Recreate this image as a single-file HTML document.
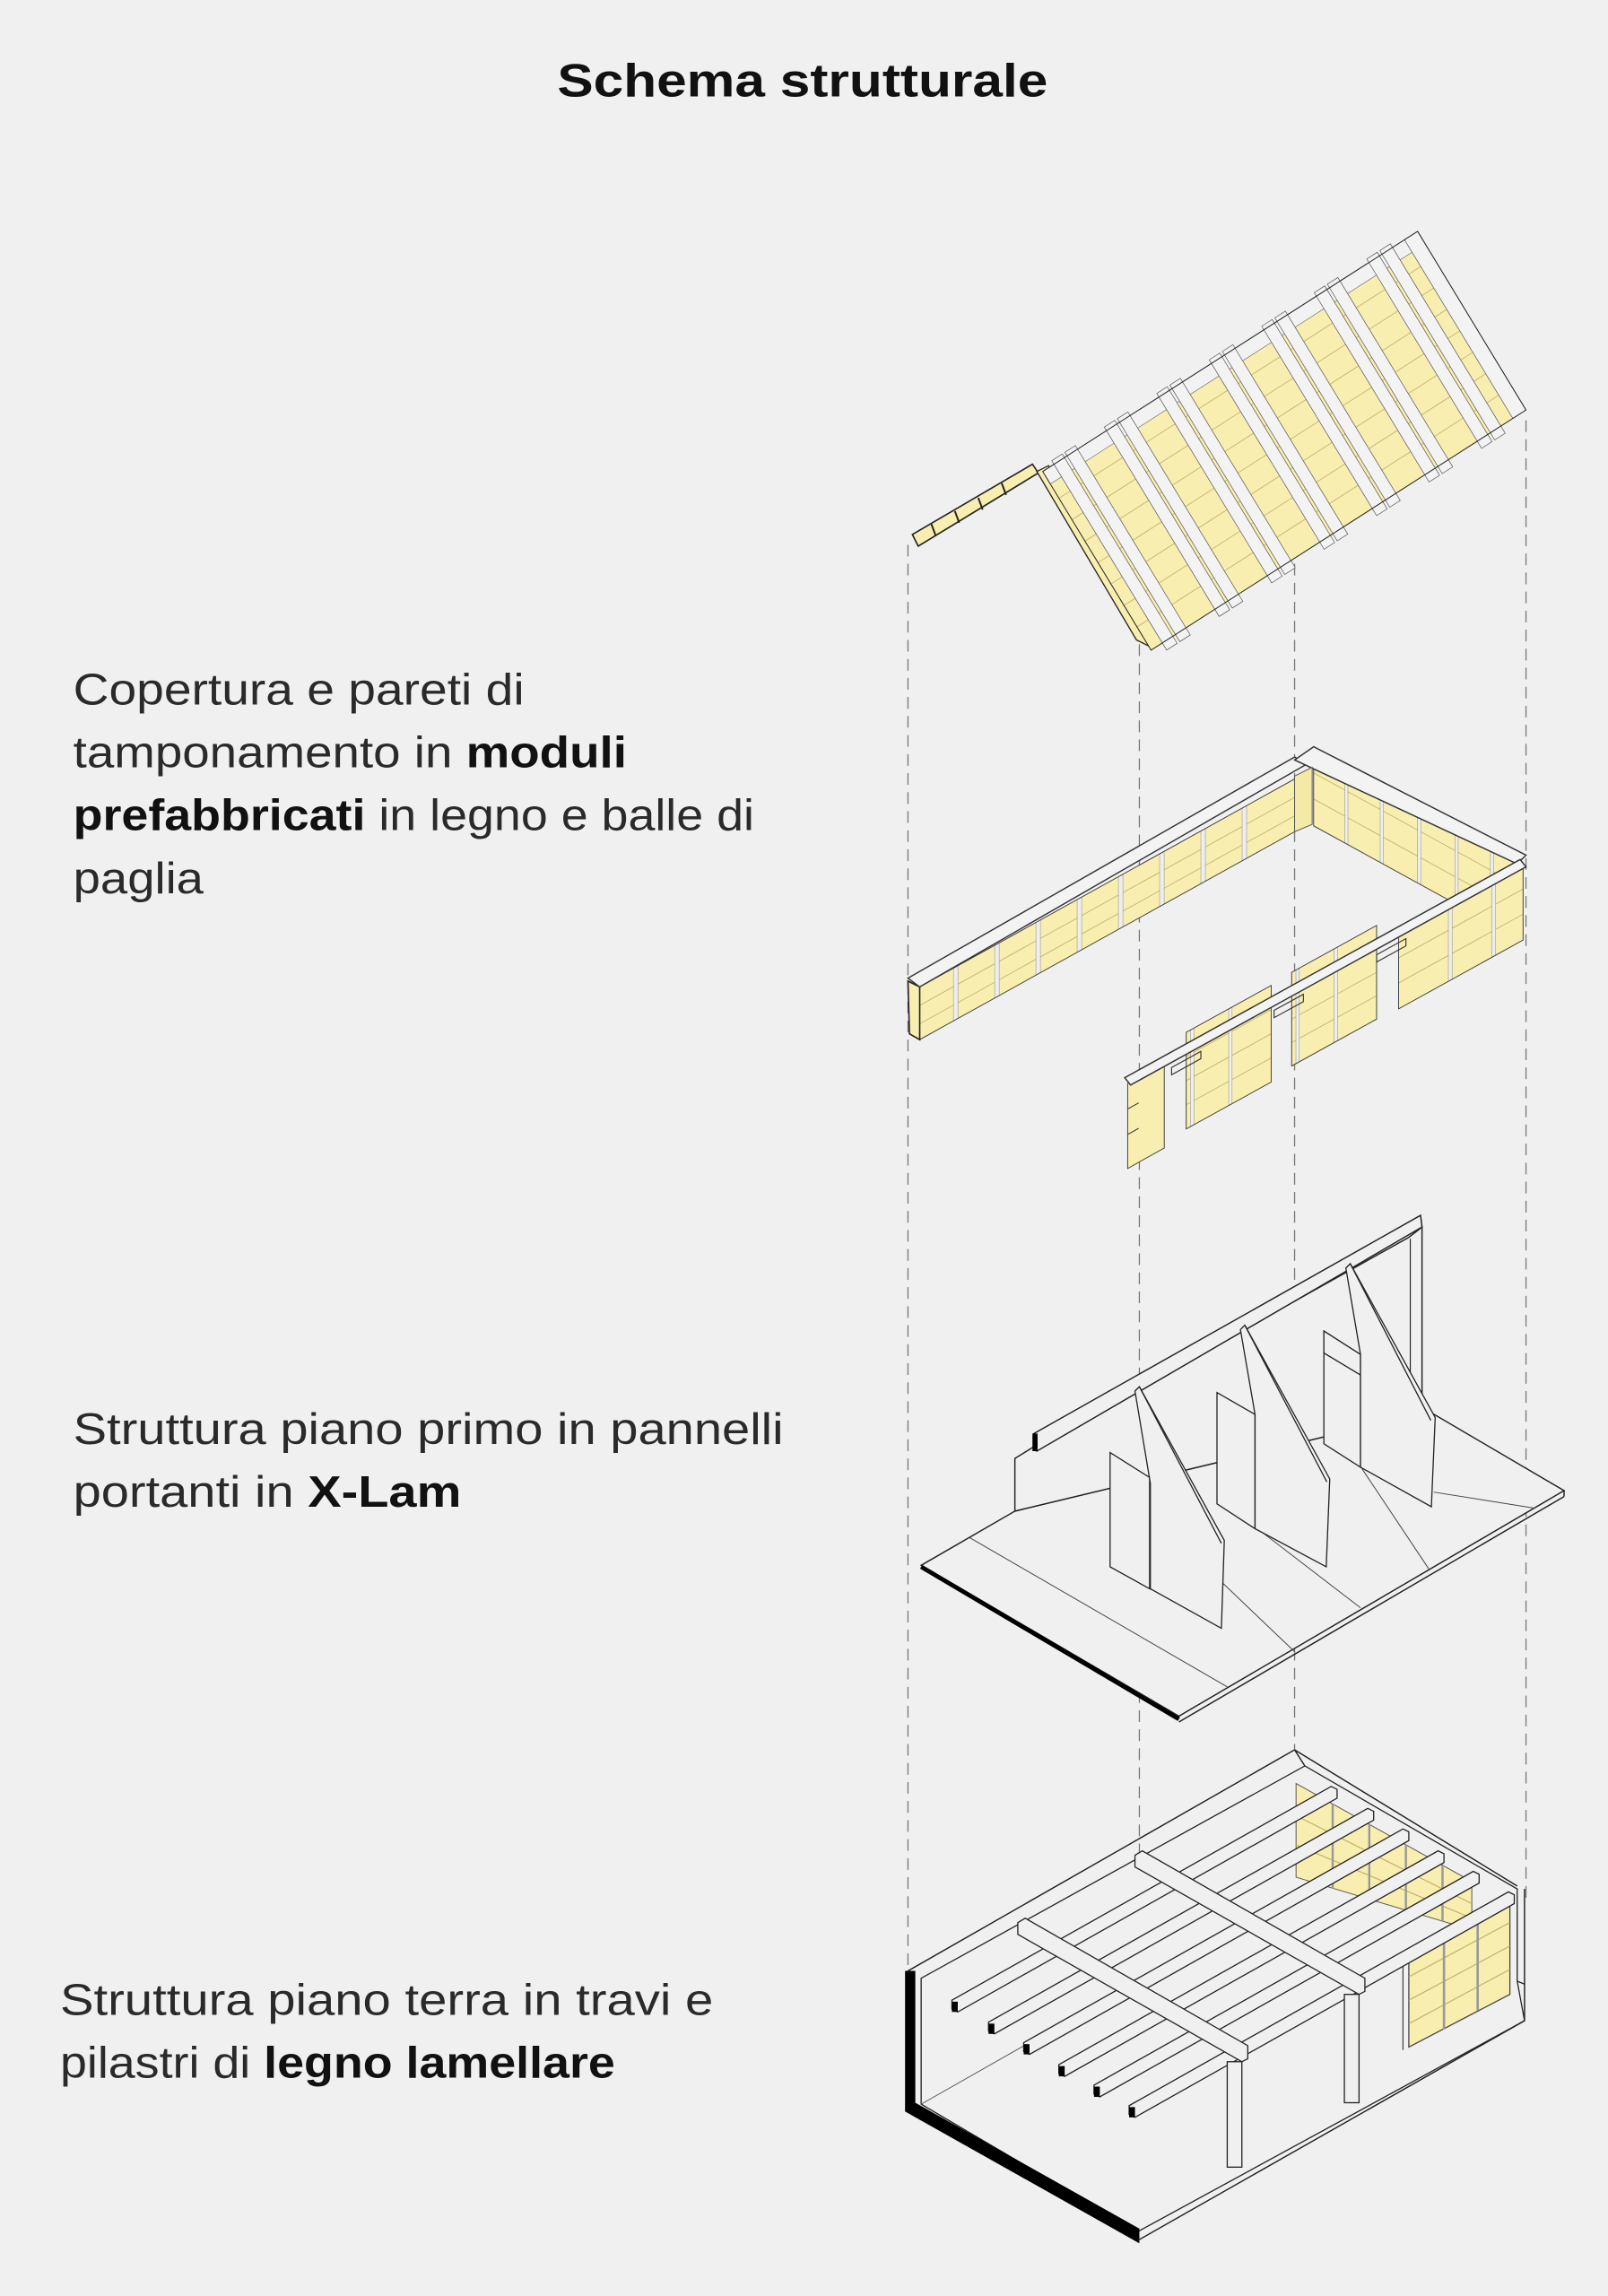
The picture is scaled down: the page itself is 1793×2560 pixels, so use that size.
<!DOCTYPE html>
<html><head><meta charset="utf-8">
<style>
html,body{margin:0;padding:0;background:#f0f0f0;}
svg{display:block;}
text{font-family:"Liberation Sans",sans-serif;}
.n{vector-effect:non-scaling-stroke;}
</style></head>
<body>
<svg width="1793" height="2560" viewBox="0 0 1098 1568" preserveAspectRatio="none" xmlns="http://www.w3.org/2000/svg">
<rect x="0" y="0" width="1098" height="1568" fill="#f0f0f0"/>

<!-- Title -->
<text x="548" y="66" text-anchor="middle" font-size="32" font-weight="bold" fill="#111" textLength="335" lengthAdjust="spacingAndGlyphs">Schema strutturale</text>

<!-- Labels -->
<g font-size="30" fill="#2a2a2a">
<text x="50" y="481" textLength="308" lengthAdjust="spacingAndGlyphs">Copertura e pareti di</text>
<text x="50" y="524" textLength="378" lengthAdjust="spacingAndGlyphs">tamponamento in <tspan font-weight="bold" fill="#111">moduli</tspan></text>
<text x="50" y="567" textLength="465" lengthAdjust="spacingAndGlyphs"><tspan font-weight="bold" fill="#111">prefabbricati</tspan> in legno e balle di</text>
<text x="50" y="610" textLength="89" lengthAdjust="spacingAndGlyphs">paglia</text>
<text x="50" y="986" textLength="485" lengthAdjust="spacingAndGlyphs">Struttura piano primo in pannelli</text>
<text x="50" y="1029" textLength="265" lengthAdjust="spacingAndGlyphs">portanti in <tspan font-weight="bold" fill="#111">X-Lam</tspan></text>
<text x="41" y="1376" textLength="446" lengthAdjust="spacingAndGlyphs">Struttura piano terra in travi e</text>
<text x="41" y="1419" textLength="379" lengthAdjust="spacingAndGlyphs">pilastri di <tspan font-weight="bold" fill="#111">legno lamellare</tspan></text>
</g>

<!-- dashed guide lines -->
<g stroke="#777" stroke-width="0.8" stroke-dasharray="8,5" fill="none">
<line x1="620" y1="372" x2="620" y2="1345"/>
<line x1="778" y1="440" x2="778" y2="1445"/>
<line x1="884" y1="372" x2="884" y2="1195"/>
<line x1="1042" y1="287" x2="1042" y2="1300"/>
</g>

<!-- ROOF -->
<polygon points="623,365 705,317 709,323 627,373" fill="#f8eeb0" stroke="#222" stroke-width="1"/>
<g stroke="#222" stroke-width="1.2"><line x1="636" y1="358" x2="639" y2="366"/><line x1="652" y1="349" x2="655" y2="357"/><line x1="668" y1="340" x2="671" y2="348"/><line x1="684" y1="330" x2="687" y2="338"/></g>
<polygon points="708,322 716,318 786,442 776,437" fill="#f8eeb0" stroke="#222" stroke-width="0.8"/>
<g transform="matrix(256,-164,74,122,712,322)">
<rect x="0" y="0" width="1" height="1" fill="#f8eeb0"/>
<g stroke="#bfae66" stroke-width="0.8" class="n">
<line class="n" x1="0" y1="0.15" x2="1" y2="0.15"/><line class="n" x1="0" y1="0.27" x2="1" y2="0.27"/><line class="n" x1="0" y1="0.39" x2="1" y2="0.39"/><line class="n" x1="0" y1="0.51" x2="1" y2="0.51"/><line class="n" x1="0" y1="0.63" x2="1" y2="0.63"/><line class="n" x1="0" y1="0.75" x2="1" y2="0.75"/><line class="n" x1="0" y1="0.87" x2="1" y2="0.87"/>
</g>
<rect class="n" x="0" y="0" width="1" height="0.07" fill="#f2f2f2" stroke="#666" stroke-width="0.6"/>
<g fill="#f3f3f3" stroke="#555" stroke-width="0.7">
<rect class="n" x="0.03" y="-0.02" width="0.028" height="1.06"/><rect class="n" x="0.065" y="-0.02" width="0.028" height="1.06"/>
<rect class="n" x="0.17" y="-0.02" width="0.028" height="1.06"/><rect class="n" x="0.205" y="-0.02" width="0.028" height="1.06"/>
<rect class="n" x="0.31" y="-0.02" width="0.028" height="1.06"/><rect class="n" x="0.345" y="-0.02" width="0.028" height="1.06"/>
<rect class="n" x="0.45" y="-0.02" width="0.028" height="1.06"/><rect class="n" x="0.485" y="-0.02" width="0.028" height="1.06"/>
<rect class="n" x="0.59" y="-0.02" width="0.028" height="1.06"/><rect class="n" x="0.625" y="-0.02" width="0.028" height="1.06"/>
<rect class="n" x="0.73" y="-0.02" width="0.028" height="1.06"/><rect class="n" x="0.765" y="-0.02" width="0.028" height="1.06"/>
<rect class="n" x="0.87" y="-0.02" width="0.028" height="1.06"/><rect class="n" x="0.905" y="-0.02" width="0.028" height="1.06"/>
</g>
<rect class="n" x="0.965" y="0" width="0.035" height="1" fill="#f3f3f3" stroke="#555" stroke-width="0.7"/>
<rect class="n" x="0" y="0" width="1" height="1" fill="none" stroke="#222" stroke-width="1"/>
</g>

<!-- WALL MODULES -->
<!-- long back wall -->
<g transform="matrix(256,-142,0,36,628,674)">
<rect x="0" y="0" width="1" height="1" fill="#f8eeb0"/>
<g stroke="#bfae66" stroke-width="0.8"><line class="n" x1="0" y1="0.35" x2="1" y2="0.35"/><line class="n" x1="0" y1="0.7" x2="1" y2="0.7"/></g>
<g fill="#eeeeee" stroke="#888" stroke-width="0.5">
<rect class="n" x="0.09" y="0" width="0.012" height="1"/><rect class="n" x="0.2" y="0" width="0.012" height="1"/><rect class="n" x="0.31" y="0" width="0.012" height="1"/><rect class="n" x="0.42" y="0" width="0.012" height="1"/><rect class="n" x="0.53" y="0" width="0.012" height="1"/><rect class="n" x="0.64" y="0" width="0.012" height="1"/><rect class="n" x="0.75" y="0" width="0.012" height="1"/><rect class="n" x="0.86" y="0" width="0.012" height="1"/>
</g>
<rect class="n" x="0" y="0" width="1" height="1" fill="none" stroke="#333" stroke-width="0.9"/>
</g>
<polygon points="620,670 621,706 628,710 628,674" fill="#f8eeb0" stroke="#222" stroke-width="1"/>
<polygon points="620,668 884,517 892,522 628,674" fill="#f3f3f3" stroke="#333" stroke-width="0.9"/>
<!-- right back wall -->
<g transform="matrix(142,78,0,54,897,510)">
<rect x="0" y="0" width="1" height="1" fill="#f8eeb0"/>
<g stroke="#bfae66" stroke-width="0.8"><line class="n" x1="0" y1="0.33" x2="1" y2="0.33"/><line class="n" x1="0" y1="0.66" x2="1" y2="0.66"/></g>
<g fill="#eeeeee" stroke="#888" stroke-width="0.5"><rect class="n" x="0.15" y="0" width="0.015" height="1"/><rect class="n" x="0.32" y="0" width="0.015" height="1"/><rect class="n" x="0.5" y="0" width="0.015" height="1"/><rect class="n" x="0.68" y="0" width="0.015" height="1"/><rect class="n" x="0.85" y="0" width="0.015" height="1"/></g>
<rect class="n" x="0" y="0" width="1" height="1" fill="none" stroke="#333" stroke-width="0.9"/>
</g>
<polygon points="884,519 897,510 1042,584 1036,590" fill="#f3f3f3" stroke="#333" stroke-width="0.9"/>
<!-- inner corner face -->
<polygon points="884,530 896,524 896,563 884,568" fill="#f5eaa5" stroke="#555" stroke-width="0.6"/>
<!-- right end front -->
<g transform="matrix(85,-47,0,52,955,637)">
<rect x="0" y="0" width="1" height="1" fill="#f8eeb0"/>
<g stroke="#bfae66" stroke-width="0.8"><line class="n" x1="0" y1="0.33" x2="1" y2="0.33"/><line class="n" x1="0" y1="0.66" x2="1" y2="0.66"/></g>
<g fill="#eeeeee" stroke="#888" stroke-width="0.5"><rect class="n" x="0.4" y="0" width="0.03" height="1"/><rect class="n" x="0.75" y="0" width="0.03" height="1"/></g>
<rect class="n" x="0" y="0" width="1" height="1" fill="none" stroke="#333" stroke-width="0.9"/>
</g>
<!-- front panels -->
<g transform="matrix(25,-14,0,58,770,740)">
<rect x="0" y="0" width="1" height="1" fill="#f8eeb0"/>
<g stroke="#333" stroke-width="1"><line class="n" x1="0" y1="0.3" x2="0.3" y2="0.3"/><line class="n" x1="0" y1="0.6" x2="0.3" y2="0.6"/></g>
<rect class="n" x="0" y="0" width="1" height="1" fill="none" stroke="#333" stroke-width="0.9"/>
</g>
<g transform="matrix(58,-32,0,66,810,705)">
<rect x="0" y="0" width="1" height="1" fill="#f8eeb0"/>
<g stroke="#bfae66" stroke-width="0.8"><line class="n" x1="0" y1="0.25" x2="1" y2="0.25"/><line class="n" x1="0" y1="0.5" x2="1" y2="0.5"/><line class="n" x1="0" y1="0.75" x2="1" y2="0.75"/></g>
<g fill="#eeeeee" stroke="#888" stroke-width="0.5"><rect class="n" x="0.05" y="0" width="0.04" height="1"/><rect class="n" x="0.5" y="0" width="0.04" height="1"/></g>
<rect class="n" x="0" y="0" width="1" height="1" fill="none" stroke="#333" stroke-width="0.9"/>
</g>
<g transform="matrix(58,-32,0,64,882,664)">
<rect x="0" y="0" width="1" height="1" fill="#f8eeb0"/>
<g stroke="#bfae66" stroke-width="0.8"><line class="n" x1="0" y1="0.25" x2="1" y2="0.25"/><line class="n" x1="0" y1="0.5" x2="1" y2="0.5"/><line class="n" x1="0" y1="0.75" x2="1" y2="0.75"/></g>
<g fill="#eeeeee" stroke="#888" stroke-width="0.5"><rect class="n" x="0.05" y="0" width="0.04" height="1"/><rect class="n" x="0.5" y="0" width="0.04" height="1"/></g>
<rect class="n" x="0" y="0" width="1" height="1" fill="none" stroke="#333" stroke-width="0.9"/>
</g>
<polygon points="768,736 1038,587 1042,592 772,741" fill="#f3f3f3" stroke="#333" stroke-width="0.9"/>
<polygon points="940,652 960,641 960,646 940,657" fill="none" stroke="#333" stroke-width="0.7"/>
<polygon points="870,690 890,679 890,684 870,695" fill="none" stroke="#333" stroke-width="0.7"/>
<polygon points="800,729 820,718 820,723 800,734" fill="none" stroke="#333" stroke-width="0.7"/>

<!-- FIRST FLOOR X-LAM -->
<g fill="#f0f0f0" stroke="#222" stroke-width="0.9">
<polygon points="629,1069 693,1032 976,964 1068,1018 805,1172"/>
</g>
<line x1="629" y1="1070" x2="805" y2="1174" stroke="#000" stroke-width="3"/>
<line x1="805" y1="1176" x2="1068" y2="1022" stroke="#222" stroke-width="0.9"/>
<line x1="1068" y1="1018" x2="1068" y2="1022" stroke="#222" stroke-width="0.9"/>
<g stroke="#444" stroke-width="0.6" fill="none">
<line x1="662" y1="1050" x2="838" y2="1152"/>
<line x1="750" y1="1000" x2="884" y2="1128"/>
<line x1="860" y1="1045" x2="929" y2="1098"/>
<line x1="930" y1="1003" x2="976" y2="1072"/>
<line x1="979" y1="1019" x2="1048" y2="1030"/>
</g>
<!-- back wall -->
<polygon points="693,1032 693,996 706,988 962,845 971,838 971,961 976,964" fill="#f0f0f0" stroke="#222" stroke-width="0.9"/>
<polygon points="706,979 970,830 971,838 708,991" fill="#f0f0f0" stroke="#222" stroke-width="0.9"/>
<rect x="705" y="979" width="3.5" height="12" fill="#000"/>
<line x1="963" y1="846" x2="963" y2="950" stroke="#222" stroke-width="0.7"/>
<!-- door/wall pieces -->
<g fill="#f0f0f0" stroke="#222" stroke-width="0.8">
<polygon points="758,992 785,1009 785,1085 758,1070"/>
<polygon points="831,951 857,966 857,1044 831,1027"/>
<polygon points="904,909 929,925 929,1002 904,986"/>
<polygon points="904,909 929,925 929,939 904,924" fill="#f0f0f0"/>
<!-- fins -->
<polygon points="775,950 778,947 836,1052 834,1112 785.5,1085 785.5,1013"/>
<polygon points="847,908 850,905 908,1010 905.6,1070 857,1044 857,966"/>
<polygon points="919,866 922,863 980,968 977.4,1029 929,1002 929,925"/>
</g>
<g stroke="#222" stroke-width="0.8"><line x1="778" y1="947" x2="834" y2="1054"/><line x1="850" y1="905" x2="906" y2="1012"/><line x1="922" y1="863" x2="977" y2="970"/></g>

<!-- GROUND FLOOR -->
<polygon points="629,1437 629,1351 891,1206 1036,1290 1036,1353 1041,1380 777,1524" fill="#f0f0f0" stroke="#222" stroke-width="0.8"/>
<line x1="620" y1="1346" x2="884" y2="1195" stroke="#222" stroke-width="0.9"/>
<line x1="884" y1="1195" x2="1036" y2="1288" stroke="#222" stroke-width="0.9"/>
<line x1="884" y1="1195" x2="891" y2="1206" stroke="#222" stroke-width="0.9"/>
<line x1="629" y1="1437" x2="884" y2="1292" stroke="#555" stroke-width="0.6"/>
<polygon points="618,1346 625,1346 625,1436 778,1522 778,1532 618,1442" fill="#000"/>
<line x1="777" y1="1530" x2="1041" y2="1380" stroke="#222" stroke-width="0.9"/>
<line x1="1041" y1="1290" x2="1041" y2="1380" stroke="#222" stroke-width="0.9"/>
<line x1="1036" y1="1353" x2="1041" y2="1355" stroke="#222" stroke-width="0.8"/>
<!-- yellow back panel -->
<polygon points="885,1218 1005,1285 1005,1318 885,1282" fill="#f8eeb0" stroke="#555" stroke-width="0.6"/>
<g stroke="#bfae66" stroke-width="0.7"><line x1="885" y1="1240" x2="1005" y2="1300"/><line x1="885" y1="1260" x2="1005" y2="1310"/></g>
<g stroke="#999" stroke-width="1.5"><line x1="910" y1="1232" x2="910" y2="1290"/><line x1="935" y1="1246" x2="935" y2="1298"/><line x1="960" y1="1260" x2="960" y2="1305"/><line x1="985" y1="1274" x2="985" y2="1312"/></g>
<!-- yellow front panel -->
<polygon points="962,1334 1031,1297 1031,1362 962,1398" fill="#f8eeb0" stroke="#444" stroke-width="0.8"/>
<g stroke="#bfae66" stroke-width="0.7"><line x1="962" y1="1350" x2="1031" y2="1313"/><line x1="962" y1="1366" x2="1031" y2="1329"/><line x1="962" y1="1382" x2="1031" y2="1345"/></g>
<g stroke="#999" stroke-width="1.6"><line x1="986" y1="1322" x2="986" y2="1386"/><line x1="1009" y1="1309" x2="1009" y2="1373"/></g>
<line x1="958" y1="1336" x2="958" y2="1400" stroke="#333" stroke-width="0.7"/>
<!-- joists -->
<g fill="#f0f0f0" stroke="#222" stroke-width="0.8">
<polygon points="650,1366 909,1220 913,1222 913,1228 654,1374 650,1372"/>
<polygon points="675,1381 934,1235 938,1237 938,1243 679,1389 675,1387"/>
<polygon points="699,1395 958,1249 962,1251 962,1257 703,1403 699,1401"/>
<polygon points="723,1410 982,1264 986,1266 986,1272 727,1418 723,1416"/>
<polygon points="747,1424 1006,1278 1010,1280 1010,1286 751,1432 747,1430"/>
<polygon points="771,1438 1030,1292 1034,1294 1034,1300 775,1446 771,1444"/>
</g>
<g fill="#000">
<rect x="650" y="1367" width="4" height="7"/><rect x="675" y="1382" width="4" height="7"/><rect x="699" y="1396" width="4" height="7"/><rect x="723" y="1411" width="4" height="7"/><rect x="747" y="1425" width="4" height="7"/><rect x="771" y="1439" width="4" height="7"/>
</g>
<!-- primary beams -->
<g fill="#f0f0f0" stroke="#222" stroke-width="0.8">
<polygon points="695,1313 700,1310 852,1397 852,1406 848,1408 695,1321"/>
<polygon points="775,1267 780,1264 932,1351 932,1360 928,1362 775,1275"/>
<rect x="838" y="1408" width="10" height="72"/>
<rect x="918" y="1362" width="10" height="74"/>
</g>
</svg>
</body></html>
